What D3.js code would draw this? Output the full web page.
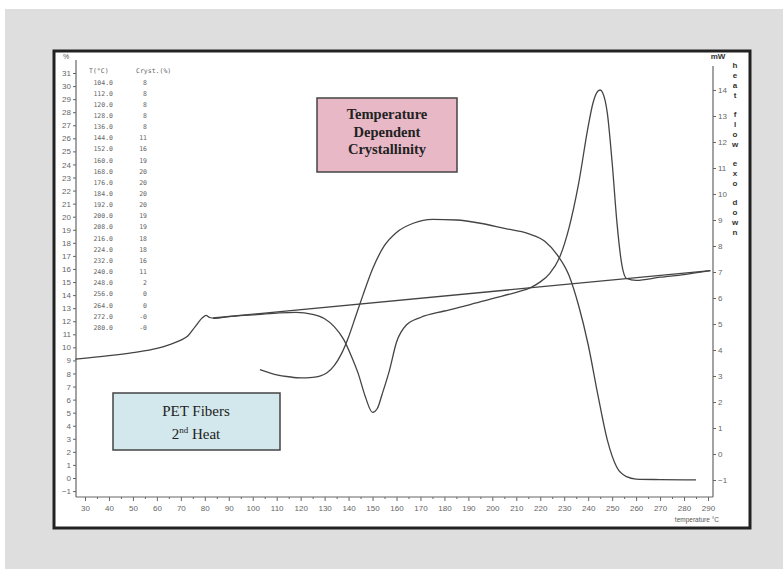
<!DOCTYPE html>
<html><head><meta charset="utf-8">
<script src="https://cdn.jsdelivr.net/npm/d3@7"></script>
<style>body{margin:0;background:#fff}svg{display:block}</style>
</head><body>
<script>
// ---- data ----
const tableT = [104,112,120,128,136,144,152,160,168,176,184,192,200,208,216,224,232,240,248,256,264,272,280];
const tableCryst = ["8","8","8","8","8","11","16","19","20","20","20","20","19","19","18","18","16","11","2","0","0","-0","-0"];
// heat flow (mW, right axis)
const hfT  = [26,40,50,60,65,70,73,76,79,80.5,82,84,90,100,110,118,125,130,134,138,141,144,147,150,152,154,157,160,164,170,180,190,200,210,216,220,224,228,232,236,240,242,244,245,246,248,250,252,254,256,260,270,280,291];
const hfV  = [3.65,3.78,3.9,4.06,4.2,4.38,4.55,4.9,5.24,5.33,5.25,5.22,5.28,5.35,5.42,5.45,5.37,5.2,4.9,4.4,3.8,3.1,2.2,1.6,1.75,2.3,3.2,4.3,4.95,5.25,5.5,5.73,5.98,6.22,6.4,6.62,6.95,7.55,8.7,10.4,12.6,13.5,13.95,14.0,13.9,13.1,11.2,8.9,7.3,6.75,6.68,6.8,6.9,7.05];
// integration baseline (mW)
const blT = [83.4, 291];
const blV = [5.23, 7.05];
// crystallinity (% , left axis)
const crT = [103,110,115,120,125,128,131,134,137,140,143,146,150,155,160,167,175,185,195,205,215,222,227,232,236,240,244,248,252,256,260,270,285];
const crV = [8.3,7.9,7.75,7.66,7.7,7.8,8.05,8.6,9.5,10.8,12.4,14.0,16.0,17.8,18.8,19.5,19.8,19.75,19.5,19.1,18.7,18.1,17.1,15.5,13.2,10.2,6.4,2.9,0.8,0.1,-0.08,-0.12,-0.15];
const xTicks = d3.range(30, 300, 10);
const leftTicks = d3.range(-1, 32);
const rightTicks = d3.range(-1, 15);
const sideLabel = "heat flow exo down";

const W = 783, H = 569;
const svg = d3.select("body").append("svg").attr("width", W).attr("height", H);
svg.append("rect").attr("x",5).attr("y",9).attr("width",W-5).attr("height",H-9).attr("fill","#dedede");
svg.append("rect").attr("x",54).attr("y",51).attr("width",696).attr("height",477)
  .attr("fill","#fff").attr("stroke","#222").attr("stroke-width",3);

const x = d3.scaleLinear().domain([30,290]).range([85,708]);
const yL = d3.scaleLinear().domain([0,31]).range([478,73]);
const yR = d3.scaleLinear().domain([-1,14]).range([480,90]);

const axColor = "#666";
function styleAxis(g){
  g.select(".domain").remove();
  g.selectAll("line").attr("stroke",axColor);
  g.selectAll("text").attr("fill","#666").style("font-family","Liberation Sans, Arial, sans-serif").style("font-size","8px");
}
// axis lines
svg.append("line").attr("x1",76).attr("x2",76).attr("y1",60).attr("y2",497).attr("stroke",axColor).attr("stroke-width",1.2);
svg.append("line").attr("x1",76).attr("x2",713).attr("y1",497).attr("y2",497).attr("stroke",axColor).attr("stroke-width",1.2);
svg.append("line").attr("x1",713).attr("x2",713).attr("y1",66).attr("y2",497).attr("stroke",axColor).attr("stroke-width",1.2);

svg.append("g").attr("transform","translate(76,0)")
  .call(d3.axisLeft(yL).tickValues(leftTicks).tickSize(3).tickPadding(2).tickFormat(d3.format("d")))
  .call(styleAxis);
svg.append("g").attr("transform","translate(713,0)")
  .call(d3.axisRight(yR).tickValues(rightTicks).tickSize(3).tickPadding(2).tickFormat(d3.format("d")))
  .call(styleAxis);
svg.append("g").attr("transform","translate(0,497)")
  .call(d3.axisBottom(x).tickValues(xTicks).tickSize(4).tickPadding(4).tickFormat(d3.format("d")))
  .call(styleAxis);
svg.append("g").attr("transform","translate(0,497)")
  .call(d3.axisBottom(x).tickValues(d3.range(35,295,10)).tickSize(2).tickFormat(""))
  .call(styleAxis);

svg.append("text").attr("x",66).attr("y",59).attr("text-anchor","middle").attr("fill","#555")
  .style("font-family","Liberation Sans, Arial, sans-serif").style("font-size","7px").text("%");
svg.append("text").attr("x",718).attr("y",59).attr("text-anchor","middle").attr("fill","#333")
  .style("font-family","Liberation Sans, Arial, sans-serif").style("font-size","8px").style("font-weight","bold").text("mW");
svg.append("text").attr("x",719).attr("y",522).attr("text-anchor","end").attr("fill","#555")
  .style("font-family","Liberation Sans, Arial, sans-serif").style("font-size","6.5px").text("temperature °C");

// vertical side label
let yy = 68;
const side = svg.append("g");
for (const ch of sideLabel) {
  if (ch === " ") { yy += 9; continue; }
  side.append("text").attr("x",735).attr("y",yy).attr("text-anchor","middle").attr("fill","#333")
    .style("font-family","Liberation Sans, Arial, sans-serif").style("font-size","8px").style("font-weight","bold").text(ch);
  yy += 10;
}

// table
const tf = "DejaVu Sans Mono, monospace";
const tg = svg.append("g").attr("fill","#666").style("font-family",tf).style("font-size","6.5px");
tg.append("text").attr("x",89).attr("y",73).text("T(°C)");
tg.append("text").attr("x",136).attr("y",73).text("Cryst.(%)");
tableT.forEach((t,i)=>{
  const ty = 84.5 + i*11.15;
  tg.append("text").attr("x",113).attr("y",ty).attr("text-anchor","end").text(t.toFixed(1));
  tg.append("text").attr("x",147).attr("y",ty).attr("text-anchor","end").text(tableCryst[i]);
});

// curves
const lineStyle = p => p.attr("fill","none").attr("stroke","#444").attr("stroke-width",1.3).attr("stroke-linejoin","round");
const lineR = d3.line().x(d=>x(d[0])).y(d=>yR(d[1])).curve(d3.curveMonotoneX);
const lineL = d3.line().x(d=>x(d[0])).y(d=>yL(d[1])).curve(d3.curveMonotoneX);
svg.append("path").datum(blT.map((t,i)=>[t,blV[i]])).attr("d",d3.line().x(d=>x(d[0])).y(d=>yR(d[1]))).call(lineStyle);
svg.append("path").datum(hfT.map((t,i)=>[t,hfV[i]])).attr("d",lineR).call(lineStyle);
svg.append("path").datum(crT.map((t,i)=>[t,crV[i]])).attr("d",lineL).call(lineStyle);

// boxes
svg.append("rect").attr("x",317).attr("y",98).attr("width",140).attr("height",74)
  .attr("fill","#e8b8c6").attr("stroke","#444").attr("stroke-width",1.5);
const pink = ["Temperature","Dependent","Crystallinity"];
pink.forEach((s,i)=>svg.append("text").attr("x",387).attr("y",119+i*17.5).attr("text-anchor","middle")
  .attr("fill","#222").style("font-family","Liberation Serif, Times New Roman, serif").style("font-size","14.5px").style("font-weight","bold").text(s));

svg.append("rect").attr("x",113).attr("y",393).attr("width",167).attr("height",57)
  .attr("fill","#d3e8ec").attr("stroke","#444").attr("stroke-width",1.5);
svg.append("text").attr("x",196).attr("y",416).attr("text-anchor","middle").attr("fill","#222")
  .style("font-family","Liberation Serif, Times New Roman, serif").style("font-size","15px").text("PET Fibers");
const t2 = svg.append("text").attr("x",196).attr("y",439).attr("text-anchor","middle").attr("fill","#222")
  .style("font-family","Liberation Serif, Times New Roman, serif").style("font-size","15px");
t2.append("tspan").text("2");
t2.append("tspan").attr("dy",-6).style("font-size","9px").text("nd");
t2.append("tspan").attr("dy",6).text(" Heat");
</script>
</body></html>
